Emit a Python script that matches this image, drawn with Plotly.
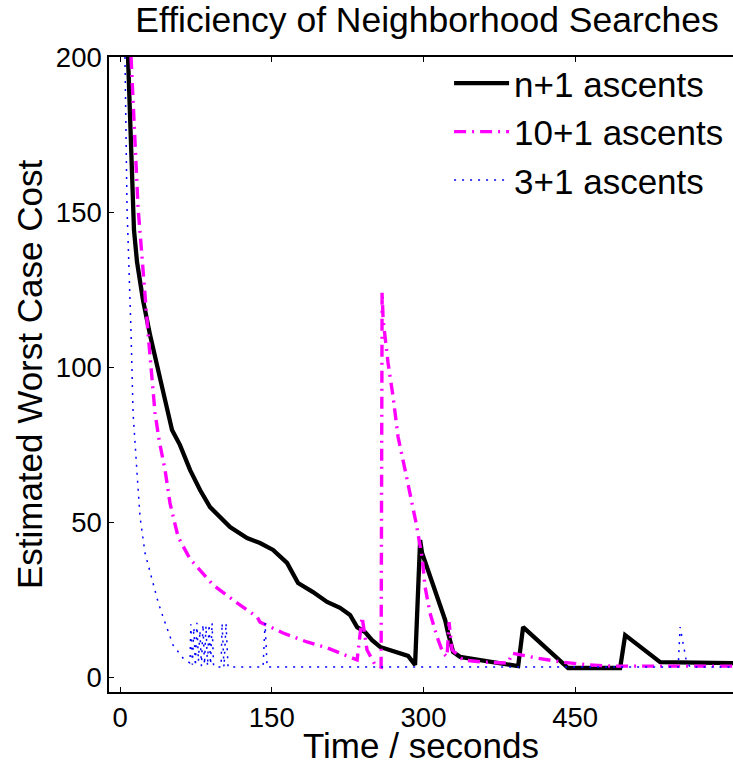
import plotly.graph_objects as go

# ---- data ----
n1_time = [7.9, 10.9, 13.8, 16.8, 22.7, 29.7, 36.6, 44.5, 51.4, 59.3, 69.2, 79.1, 89.0,
           108.8, 125.6, 138.4, 151.3, 165.1, 176.0, 190.8, 204.7, 217.5, 227.4, 234.4,
           242.3, 249.2, 257.1, 273.9, 284.8, 291.7, 296.7, 298.6, 306.5, 313.5, 321.4,
           324.3, 329.3, 336.2, 393.6, 398.5, 443.0, 494.4, 499.4, 534.0, 606.0]
n1_cost = [200, 170, 144.2, 133.9, 121.6, 110.3, 100, 89.4, 79.7, 74.8, 66.8, 60.3, 54.8,
           48.4, 44.8, 43.2, 41.0, 36.8, 30.3, 27.4, 24.2, 22.3, 20.0, 16.1,
           14.5, 11.9, 9.7, 8.1, 6.8, 3.9, 44.2, 40.0, 32.3, 25.8, 18.4,
           14.2, 8.1, 6.5, 3.5, 16.1, 2.9, 2.9, 13.5, 4.8, 4.5]

a10_time = [10.9, 17.8, 27.7, 31.6, 34.6, 38.6, 44.5, 49.4, 57.4, 69.2, 86.0, 92.0, 115.7,
            135.5, 138.4, 161.2, 184.9, 204.7, 234.4, 239.3, 244.2, 252.2, 258.1, 259.1,
            260.1, 265.0, 270.0, 274.9, 281.8, 287.7, 292.7, 298.6, 301.6, 306.5, 313.5,
            319.4, 323.3, 325.3, 328.3, 339.2, 358.9, 383.7, 387.6, 412.3, 437.1, 462.8,
            487.5, 606.0]
a10_cost = [200, 151.6, 111.0, 95.8, 85.2, 76.5, 66.8, 56.1, 45.2, 38.1, 31.9, 29.7, 23.9,
            19.4, 17.7, 14.2, 11.3, 9.4, 5.5, 19.4, 8.7, 3.9, 3.2, 124.2,
            115.2, 101.3, 90.3, 77.4, 66.8, 58.1, 49.7, 38.7, 29.0, 20.6, 12.9,
            7.7, 6.5, 17.7, 8.7, 5.5, 4.8, 4.5, 7.7, 6.1, 4.8, 3.9,
            3.5, 3.5]

a3_time = [4.9, 6.9, 10.9, 12.9, 16.8, 19.8, 24.7, 31.6, 37.6, 42.5, 47.5, 52.4, 62.3, 69.2,
           70.0, 71.5, 73.0, 74.5, 76.0, 77.5, 79.0, 80.5, 82.0, 83.5, 85.0, 86.5, 88.0,
           89.5, 91.0, 92.5, 93.9, 99.9, 100.9, 102.8, 104.8, 106.8, 141.4, 143.4, 145.4,
           551.8, 553.7, 559.7, 563.6, 606.0]
a3_cost = [200, 151.6, 111.0, 85.2, 65.8, 51.6, 40.0, 31.9, 24.2, 19.4, 14.5, 10.3, 6.1, 4.5,
           17.0, 4.0, 16.0, 3.5, 17.5, 5.0, 15.0, 3.5, 17.0, 4.0, 16.5, 3.5, 17.0,
           4.0, 17.5, 3.5, 3.2, 3.2, 17.4, 3.2, 17.4, 3.2, 3.2, 17.4, 3.2,
           3.2, 16.1, 5.5, 3.2, 3.2]

x_ticks = [0, 150, 300, 450]
y_ticks = [0, 50, 100, 150, 200]

FONT = "Liberation Sans, Arial, sans-serif"

fig = go.Figure()
fig.add_trace(go.Scatter(x=n1_time, y=n1_cost, mode="lines", name="n+1 ascents",
                         line=dict(color="black", width=4.3)))
fig.add_trace(go.Scatter(x=a10_time, y=a10_cost, mode="lines", name="10+1 ascents",
                         line=dict(color="#ff00ff", width=3.4, dash="12px,6px,2px,6px")))
fig.add_trace(go.Scatter(x=a3_time, y=a3_cost, mode="lines", name="3+1 ascents",
                         line=dict(color="#0000ff", width=1.5, dash="2px,6px")))

fig.update_layout(
    width=733, height=765,
    margin=dict(l=109, r=0, t=57, b=73, autoexpand=False),
    paper_bgcolor="white", plot_bgcolor="white",
    font=dict(family=FONT, color="black"),
    title=dict(text="Efficiency of Neighborhood Searches", x=427 / 733, xanchor="center",
               y=1 - 20 / 765, yanchor="middle", font=dict(size=35.5, family=FONT)),
    showlegend=True,
    legend=dict(x=0.545, y=1.005, xanchor="left", yanchor="top",
                bgcolor="rgba(0,0,0,0)", borderwidth=0,
                font=dict(size=35, family=FONT), itemwidth=55),
    xaxis=dict(range=[-10.9, 606], tickvals=x_ticks, ticks="inside", ticklen=5,
               tickcolor="black", showline=True, linecolor="black", linewidth=2,
               mirror="ticks", showgrid=False, zeroline=False, automargin=True,
               tickfont=dict(size=27.5, family=FONT),
               title=dict(text="Time / seconds", font=dict(size=35, family=FONT), standoff=4)),
    yaxis=dict(range=[-4.84, 200], tickvals=y_ticks, ticks="inside", ticklen=5,
               tickcolor="black", showline=True, linecolor="black", linewidth=1.5,
               mirror=False, showgrid=False, zeroline=False, automargin=True,
               tickfont=dict(size=27.5, family=FONT),
               title=dict(text="Estimated Worst Case Cost", font=dict(size=35, family=FONT), standoff=3)),
)

fig.write_html("out.html")
